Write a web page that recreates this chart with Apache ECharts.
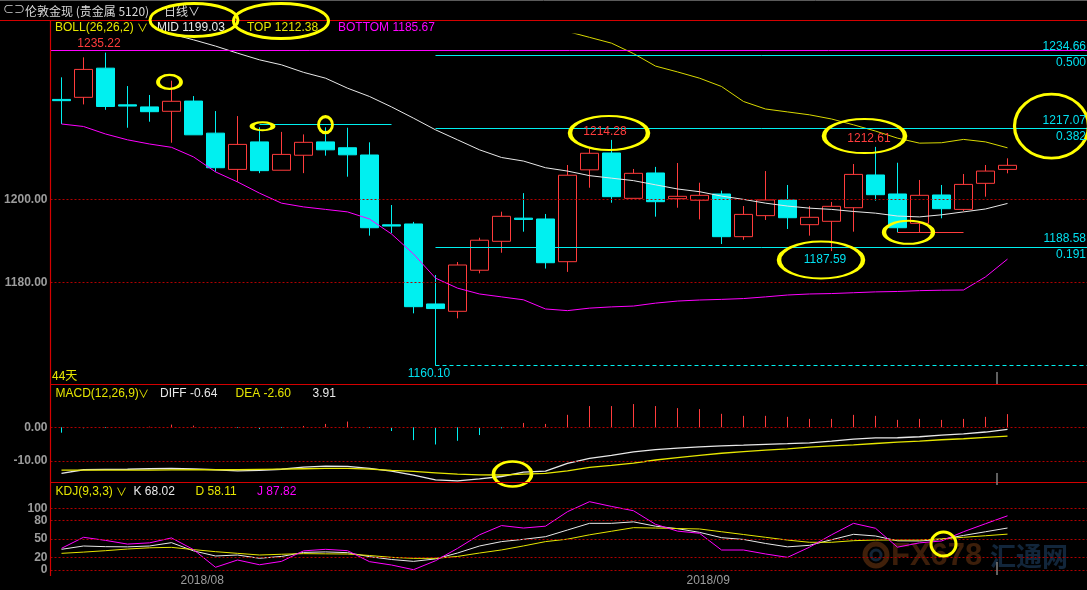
<!DOCTYPE html>
<html><head><meta charset="utf-8">
<script src="https://cdn.jsdelivr.net/npm/echarts@6/dist/echarts.min.js"></script>
<style>html,body{margin:0;padding:0;background:#000;}#c{width:1087px;height:590px;}</style>
</head><body><div id="c"></div>
<script>
// ---------- data ----------
const dates = ['2018-07-24','2018-07-25','2018-07-26','2018-07-27','2018-07-30','2018-07-31',
 '2018-08-01','2018-08-02','2018-08-03','2018-08-06','2018-08-07','2018-08-08','2018-08-09','2018-08-10',
 '2018-08-13','2018-08-14','2018-08-15','2018-08-16','2018-08-17','2018-08-20','2018-08-21','2018-08-22',
 '2018-08-23','2018-08-24','2018-08-27','2018-08-28','2018-08-29','2018-08-30','2018-08-31',
 '2018-09-03','2018-09-04','2018-09-05','2018-09-06','2018-09-07','2018-09-10','2018-09-11','2018-09-12',
 '2018-09-13','2018-09-14','2018-09-17','2018-09-18','2018-09-19','2018-09-20','2018-09-21'];
const opens  = [1224.0,1224.5,1231.5,1222.7,1222.2,1221.15,1223.6,1215.9,1207.2,1213.8,1207.0,1210.6,1213.8,1212.4,1210.66,1193.9,1194.1,1174.9,1173.14,1183.0,1189.94,1195.5,1195.3,1185.05,1207.1,1211.14,1200.26,1206.34,1200.17,1199.8,1201.3,1191.05,1196.1,1199.86,1193.93,1194.74,1198.0,1205.86,1201.3,1194.26,1201.06,1197.6,1203.86,1207.2];
const closes = [1223.7,1231.2,1222.3,1222.4,1221.05,1223.55,1215.5,1207.6,1213.2,1206.9,1210.8,1213.7,1211.9,1210.7,1193.2,1193.6,1174.25,1173.8,1184.25,1190.2,1195.94,1195.2,1184.8,1205.8,1211.07,1200.65,1206.26,1199.45,1200.74,1200.98,1191.05,1196.4,1199.86,1195.6,1195.7,1198.34,1206.0,1201.13,1193.2,1200.98,1197.77,1203.6,1206.8,1208.18];
const lows   = [1218.1,1222.8,1221.5,1217.2,1218.65,1213.6,1215.5,1206.65,1204.25,1206.3,1207.0,1206.3,1210.5,1205.45,1191.3,1191.9,1172.65,1160.10,1171.45,1182.26,1187.2,1192.25,1183.4,1182.6,1202.8,1199.2,1200.26,1195.85,1198.0,1195.2,1189.3,1190.3,1195.06,1192.9,1191.3,1187.59,1192.25,1199.7,1192.1,1192.1,1195.46,1197.2,1200.65,1206.26];
const highs  = [1229.3,1234.1,1235.22,1227.2,1225.06,1228.5,1224.8,1221.2,1220.0,1217.3,1216.2,1215.6,1217.3,1217.2,1213.7,1198.65,1194.6,1181.85,1184.97,1190.8,1197.05,1201.5,1196.5,1208.26,1212.27,1214.28,1207.3,1207.8,1208.74,1204.0,1202.1,1198.4,1206.8,1203.46,1198.4,1199.4,1208.5,1212.61,1208.8,1204.66,1203.46,1206.1,1208.26,1209.86];

const bollMid = [1244.6,1243.8,1242.9,1241.9,1240.8,1239.7,1238.3,1236.8,1235.1,1233.5,1232.3,1230.5,1229.1,1226.7,1224.7,1222.2,1219.5,1216.7,1214.3,1211.9,1210.06,1209.2,1207.6,1206.8,1205.7,1205.1,1204.5,1203.5,1202.5,1201.85,1200.8,1200.0,1199.1,1198.4,1197.9,1197.6,1197.1,1196.7,1196.0,1195.8,1196.3,1197.0,1197.7,1199.03];
const bollTop = [1271.1,1270.1,1270.1,1269.5,1268.3,1266.9,1266.4,1267.0,1266.0,1265.5,1265.5,1262.8,1260.6,1256.4,1254.1,1252.7,1252.1,1252.3,1249.9,1246.5,1243.5,1242.5,1241.9,1240.3,1238.9,1237.5,1235.0,1232.0,1230.6,1229.1,1227.1,1223.5,1221.7,1221.0,1220.3,1219.3,1217.9,1216.4,1214.7,1213.5,1213.6,1214.4,1213.8,1212.38];
const bollBottom = [1218.1,1217.5,1215.7,1214.3,1213.3,1212.5,1210.2,1206.6,1204.2,1201.5,1199.1,1198.2,1197.6,1197.0,1195.3,1191.7,1186.9,1181.1,1178.7,1177.3,1176.6,1175.9,1173.7,1173.3,1173.9,1174.2,1174.4,1175.1,1175.6,1175.85,1176.0,1176.2,1176.6,1177.05,1177.3,1177.4,1177.6,1177.8,1177.9,1178.1,1178.2,1178.25,1181.4,1185.67];

const macdHist = [-1.6,-0.3,-0.2,0.1,0.2,0.8,0.5,-0.3,-0.2,-0.5,-0.2,0.4,1.0,1.7,-0.2,-1.1,-3.8,-5.1,-4.0,-2.3,-0.3,1.3,1.0,3.7,6.3,6.3,6.9,6.3,5.7,5.4,4.0,3.4,3.4,3.1,2.5,2.5,3.7,3.4,2.2,2.5,2.2,2.5,3.1,3.91];
const diffVals = [-13.65,-12.6,-12.5,-12.45,-12.3,-12.2,-12.35,-12.6,-12.9,-12.8,-12.45,-11.8,-11.5,-11.6,-12.2,-13.0,-14.2,-15.6,-15.9,-15.3,-14.6,-13.3,-13.0,-10.7,-9.2,-8.3,-7.3,-6.6,-6.2,-5.8,-5.5,-5.3,-5.05,-4.85,-4.6,-4.1,-3.5,-3.15,-3.1,-2.8,-2.3,-1.95,-1.4,-0.64];
const deaVals = [-12.7,-12.7,-12.7,-12.7,-12.7,-12.65,-12.6,-12.6,-12.6,-12.5,-12.4,-12.3,-12.2,-12.2,-12.4,-12.8,-13.1,-13.5,-13.9,-14.1,-14.15,-13.9,-13.7,-12.9,-11.9,-11.3,-10.6,-9.7,-9.0,-8.3,-7.7,-7.2,-6.8,-6.4,-5.9,-5.5,-5.2,-4.8,-4.4,-4.1,-3.7,-3.4,-3.0,-2.6];

const kVals = [33.5,38.9,37.8,37.5,38.9,44.3,31,22.7,24.3,19,22,28.5,29.3,28.1,21.6,17,14,18,27.5,38.9,46,49.7,54,64.8,75.6,75.6,78,71,67,61,52.4,49.5,43,37.5,40,49,57.8,55.1,47.3,47,49.5,56,62,68.02];
const dVals = [27,29,31.3,34,36,36.7,33,29.7,27,24.3,25.5,26.5,26.2,25.9,23.5,20.5,18.9,18.9,22,27.5,32.5,39,46,50,57,62.8,68.6,68,67.2,66.5,62,57.5,53,48.5,44.9,44.9,47.5,48.6,48.6,48.6,50.5,53,55.5,58.11];
const jVals = [35.1,53,48,42,44,52,33,4.4,16.2,8.5,14,31,33.5,31.3,13.5,8.1,0.5,15,35,57,72,68,71,94.5,110.7,103,96,74,63,59.5,32.4,32.4,26,20.5,37,57,75.6,67.6,37,44,47,62,75,87.82];

const fibStartIndex = 17;
const fibLevels = [1234.66, 1217.07, 1188.58];
const fibRatios = ['0.500', '0.382', '0.191'];
const fibZero = 1160.10;
const magentaLevel = 1235.86;
const resistLevel = 1218.0, resistFrom = 9, resistTo = 15;
const supportLevel = 1192.1, supportFrom = 38, supportTo = 41;
const priceTicks = [1200, 1180];
const macdTicks = [0, -10];
const kdjTicks = [100, 80, 50, 20, 0];
// extreme labels: [index, value, labelColor, side]
const extremes = [[2, 1235.22, 'red', 'top'], [25, 1214.28, 'red', 'top'], [37, 1212.61, 'red', 'top'], [35, 1187.59, 'cyan', 'bottom'], [17, 1160.10, 'cyan', 'bottom']];

// ---------- style ----------
const FONT = "'Liberation Sans', Arial, 'Noto Sans CJK SC', sans-serif";
const CJK = "'Noto Sans CJK SC', 'Liberation Sans', sans-serif";
const RED = '#ff3c3c', CYAN = '#00f0f0', CYAN_T = '#00e0f0', YEL = '#e6e600', WHITE = '#e8e8e8', MAG = '#ff00ff';
const FRAME = '#d40000', GRIDDOT = '#b00000', AXTXT = '#9c9c9c', ANNO = '#ffff00';

const pad = ['', ' ', '  ', '   '];
const cats = dates.concat(pad.map((p, i) => '~' + i));
const lastCat = cats.length - 1;
const n = dates.length;

const candleData = dates.map((d, i) => [opens[i], closes[i], lows[i], highs[i]]);
const histData = macdHist.map((v, i) => [i, v]);

const dotted = { color: GRIDDOT, type: [2, 2], width: 1 };
const tickLabel = txt => ({ show: true, position: 'start', formatter: txt, color: AXTXT, fontSize: 12,
  fontWeight: 'bold', fontFamily: FONT, distance: [3, 0] });
const ellipse = (coord, size, offset) => ({ coord, symbol: 'circle', symbolSize: size, symbolOffset: offset || [0, 0],
  itemStyle: { color: 'transparent', borderColor: ANNO, borderWidth: 3 }, label: { show: false } });

const mainMarkLines = []
  .concat(priceTicks.map(v => ({ yAxis: v, lineStyle: dotted, label: tickLabel(v.toFixed(2)) })))
  .concat([{ yAxis: magentaLevel, lineStyle: { color: MAG, width: 1, type: 'solid' }, label: { show: false } }])
  .concat(fibLevels.map((v, i) => [
    { coord: [fibStartIndex, v], lineStyle: { color: CYAN, width: 1, type: 'solid' },
      label: { show: true, position: 'insideEnd', formatter: v.toFixed(2) + '\n' + fibRatios[i], color: CYAN_T,
        fontSize: 12, fontFamily: FONT, lineHeight: 16, distance: [9.5, 0] } },
    { coord: [lastCat, v] }]))
  .concat([[{ coord: [fibStartIndex, fibZero], lineStyle: { color: CYAN, width: 1, type: [4, 3] }, label: { show: false } },
            { coord: [lastCat, fibZero] }]])
  .concat([[{ coord: [resistFrom, resistLevel], lineStyle: { color: CYAN, width: 1, type: 'solid' }, label: { show: false } },
            { coord: [resistTo, resistLevel] }]])
  .concat([[{ coord: [supportFrom, supportLevel], lineStyle: { color: RED, width: 1, type: 'solid' }, label: { show: false } },
            { coord: [supportTo, supportLevel] }]]);

const mainMarkPoints = extremes.map(e => ({
  coord: [e[0], e[1]], symbol: 'rect', symbolSize: [1, 1], itemStyle: { color: 'transparent' },
  label: { show: true, position: e[3], distance: 2, offset: [-6.5, 0], formatter: e[1].toFixed(2),
    color: e[2] === 'red' ? RED : CYAN_T, fontSize: 12, fontFamily: FONT }
})).concat([
  ellipse([5, 1228.2], [23, 14], [-2, 0]),
  ellipse([9, 1217.55], [21, 8], [3, 0]),
  ellipse([12, 1217.93], [14, 16]),
  ellipse([25, 1215.94], [78, 34], [-2.5, 0]),
  ellipse([36, 1215.2], [81, 34], [11, 0]),
  ellipse([35, 1185.45], [84, 37], [-10.5, 0]),
  ellipse([38, 1192.1], [49, 23], [11, 0]),
  ellipse([45, 1217.6], [74, 64])
]);

const xAx = (gi, showLabel) => ({
  type: 'category', gridIndex: gi, data: cats, boundaryGap: true,
  axisLine: { show: false }, axisTick: { show: false }, splitLine: { show: false },
  axisLabel: showLabel ? {
    show: true, interval: 0, margin: 0, color: AXTXT, fontSize: 12, fontFamily: FONT, hideOverlap: false,
    formatter: (val, idx) => {
      if (idx <= 0 || idx >= n) return '';
      if (dates[idx].slice(0, 7) !== dates[idx - 1].slice(0, 7)) return '{m|' + dates[idx].slice(0, 7).replace('-', '/') + '}';
      return '';
    },
    rich: { m: { width: 26, align: 'left', color: AXTXT, fontSize: 12, fontFamily: FONT } }
  } : { show: false }
});

const lineS = (name, data, color, xi, w) => ({
  name, type: 'line', data, xAxisIndex: xi, yAxisIndex: xi, symbol: 'none', silent: true,
  lineStyle: { color, width: w || 1 }, itemStyle: { color }, animation: false
});

const last = arr => arr[arr.length - 1].toFixed(2);

const txt = (x, y, text, fill, size, font) => ({ type: 'text', x, y, z: 100, silent: true,
  style: { text, fill, font: (size || 12) + 'px ' + (font || FONT), verticalAlign: 'middle', align: 'left' } });
const gline = (x1, y1, x2, y2, stroke, w) => ({ type: 'line', z: 90, silent: true,
  shape: { x1, y1, x2, y2 }, style: { stroke, lineWidth: w || 1 } });

const gridBase = { left: 50.5, width: 1056, outerBoundsMode: 'none', containLabel: false };

const option = {
  backgroundColor: '#000',
  animation: false,
  grid: [
    Object.assign({ top: 34, height: 350 }, gridBase),
    Object.assign({ top: 384, height: 98.3 }, gridBase),
    Object.assign({ top: 482.3, height: 92.7 }, gridBase)
  ],
  xAxis: [xAx(0, false), xAx(1, false), xAx(2, true)],
  yAxis: [
    { type: 'value', gridIndex: 0, min: 1155.69, max: 1239.70, show: false },
    { type: 'value', gridIndex: 1, min: -16.32, max: 12.85, show: false },
    { type: 'value', gridIndex: 2, min: -8.1, max: 142.1, show: false }
  ],
  series: [
    { name: 'K线', type: 'candlestick', data: candleData, xAxisIndex: 0, yAxisIndex: 0, barWidth: 19, clip: false, silent: true,
      itemStyle: { color: '#000', color0: CYAN, borderColor: RED, borderColor0: CYAN, borderWidth: 1 },
      markLine: { symbol: ['none', 'none'], silent: true, animation: false, label: { show: false }, data: mainMarkLines },
      markPoint: { silent: true, animation: false, data: mainMarkPoints } },
    lineS('MID', bollMid, WHITE, 0),
    lineS('TOP', bollTop, '#d8d800', 0),
    lineS('BOTTOM', bollBottom, MAG, 0),
    { name: 'MACD', type: 'custom', data: histData, xAxisIndex: 1, yAxisIndex: 1, clip: false, silent: true,
      encode: { x: 0, y: 1 },
      renderItem: (params, api) => {
        const v = api.value(1);
        const p0 = api.coord([api.value(0), 0]);
        const p1 = api.coord([api.value(0), v]);
        const x = Math.round(p0[0] - 0.5) + 0.5;
        return { type: 'line', shape: { x1: x, y1: p0[1], x2: x, y2: p1[1] },
          style: { stroke: v >= 0 ? RED : CYAN, lineWidth: 1 } };
      },
      markLine: { symbol: ['none', 'none'], silent: true, animation: false,
        data: macdTicks.map(v => ({ yAxis: v, lineStyle: dotted, label: tickLabel(v.toFixed(2)) })) },
      markPoint: { silent: true, animation: false, data: [ellipse([20, -13.86], [38, 25], [11, 0])] } },
    lineS('DIFF', diffVals, WHITE, 1, 1.3),
    lineS('DEA', deaVals, YEL, 1, 1.3),
    Object.assign(lineS('K', kVals, WHITE, 2), { clip: false,
      markLine: { symbol: ['none', 'none'], silent: true, animation: false,
        data: kdjTicks.map(v => ({ yAxis: v, lineStyle: dotted, label: tickLabel(String(v)) })) },
      markPoint: { silent: true, animation: false, data: [ellipse([40, 42.1], [25, 24], [2, 0])] } }),
    lineS('D', dVals, YEL, 2),
    lineS('J', jVals, MAG, 2)
  ],
  graphic: { elements: [
    gline(0, 0.5, 1087, 0.5, '#5a5a5a', 1),
    txt(3, 10, '⊂⊃', '#cfcfcf', 11),
    txt(25, 11, '伦敦金现 (贵金属 5120)', '#d8d8d8', 12, CJK),
    txt(164, 11, '日线∨', '#d8d8d8', 12, CJK),
    gline(0, 20.5, 1087, 20.5, FRAME, 1.2),
    gline(50.5, 20, 50.5, 576, FRAME, 1.2),
    gline(50, 384.5, 1087, 384.5, FRAME, 1.2),
    gline(50, 482.5, 1087, 482.5, FRAME, 1.2),
    txt(55, 28, 'BOLL(26,26,2)', YEL), txt(137, 29, '∨', YEL, 11),
    txt(157, 28, 'MID ' + last(bollMid), WHITE),
    txt(247, 28, 'TOP ' + last(bollTop), YEL),
    txt(338, 28, 'BOTTOM ' + last(bollBottom), MAG),
    txt(52, 375, n + '天', YEL, 12, CJK),
    txt(55.5, 394, 'MACD(12,26,9)', YEL), txt(138, 395, '∨', YEL, 11),
    txt(160, 394, 'DIFF ' + last(diffVals), WHITE),
    txt(235.5, 394, 'DEA ' + last(deaVals), YEL),
    txt(312.5, 394, last(macdHist), WHITE),
    txt(55.5, 491.5, 'KDJ(9,3,3)', YEL), txt(116, 492.5, '∨', YEL, 11),
    txt(133.5, 491.5, 'K ' + last(kVals), WHITE),
    txt(195.5, 491.5, 'D ' + last(dVals), YEL),
    txt(257, 491.5, 'J ' + last(jVals), MAG),
    { type: 'ellipse', z: 110, silent: true, shape: { cx: 194, cy: 20, rx: 44, ry: 16.5 }, style: { fill: 'none', stroke: ANNO, lineWidth: 3 } },
    { type: 'ellipse', z: 110, silent: true, shape: { cx: 281, cy: 21, rx: 47.5, ry: 17.5 }, style: { fill: 'none', stroke: ANNO, lineWidth: 3 } },
    gline(997, 372, 997, 384, '#808080', 1.5),
    gline(997, 473, 997, 485, '#808080', 1.5),
    gline(997, 562, 997, 575, '#808080', 1.5),
    { type: 'circle', z: 1, silent: true, shape: { cx: 876, cy: 555, r: 11 }, style: { fill: 'none', stroke: 'rgba(160,80,25,0.4)', lineWidth: 5 } },
    { type: 'circle', z: 1, silent: true, shape: { cx: 876, cy: 555, r: 5 }, style: { fill: 'none', stroke: 'rgba(40,80,120,0.45)', lineWidth: 3 } },
    { type: 'text', z: 1, silent: true, x: 891, y: 556, style: { text: 'FX678', fill: 'rgba(150,75,25,0.4)', font: 'bold 31px ' + FONT, verticalAlign: 'middle' } },
    { type: 'text', z: 1, silent: true, x: 990, y: 556, style: { text: '汇通网', fill: 'rgba(40,85,130,0.45)', font: 'bold 26px ' + CJK, verticalAlign: 'middle' } }
  ] }
};

const chart = echarts.init(document.getElementById('c'), null, { renderer: 'canvas', width: 1087, height: 590 });
chart.setOption(option);
</script></body></html>
